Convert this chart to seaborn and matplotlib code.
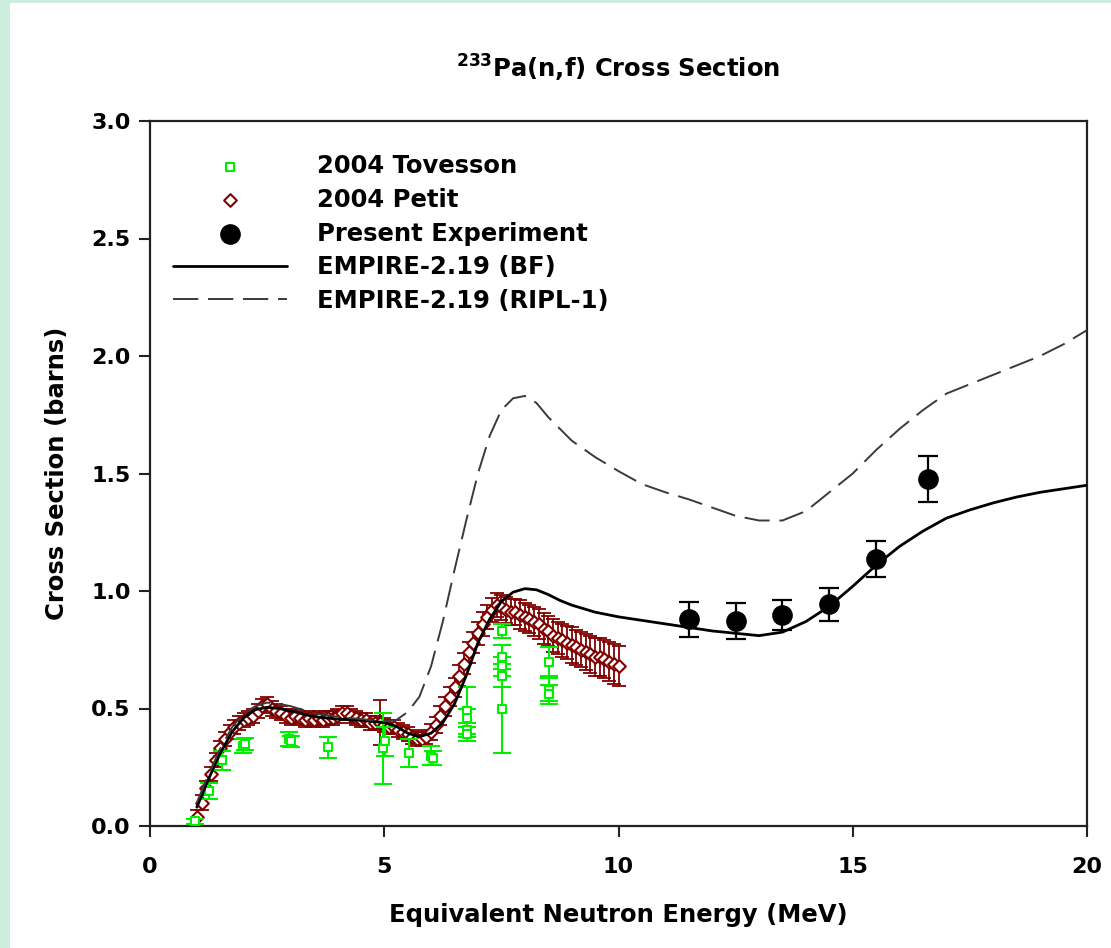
import matplotlib
matplotlib.use('Agg')
import matplotlib.pyplot as plt
import seaborn as sns
from matplotlib.patches import Rectangle

# ---------------- data ----------------
petit_e = [1.0, 1.1, 1.2, 1.3, 1.4, 1.5, 1.6, 1.7, 1.8, 1.9,
           2.0, 2.1, 2.2, 2.3, 2.4, 2.5, 2.6, 2.7, 2.8, 2.9,
           3.0, 3.1, 3.2, 3.3, 3.4, 3.5, 3.6, 3.7, 3.8, 3.9,
           4.0, 4.1, 4.2, 4.3, 4.4, 4.5, 4.6, 4.7, 4.8, 4.9,
           5.0, 5.1, 5.2, 5.3, 5.4, 5.5, 5.6, 5.7, 5.8, 5.9,
           6.0, 6.1, 6.2, 6.3, 6.4, 6.5, 6.6, 6.7, 6.8, 6.9,
           7.0, 7.1, 7.2, 7.3, 7.4, 7.5, 7.6, 7.7, 7.8, 7.9,
           8.0, 8.1, 8.2, 8.3, 8.4, 8.5, 8.6, 8.7, 8.8, 8.9,
           9.0, 9.1, 9.2, 9.3, 9.4, 9.5, 9.6, 9.7, 9.8, 9.9, 10.0]
petit_xs = [0.04, 0.10, 0.16, 0.22, 0.28, 0.33, 0.37, 0.40, 0.42, 0.44,
            0.45, 0.46, 0.47, 0.49, 0.51, 0.52, 0.50, 0.49, 0.48, 0.47,
            0.46, 0.47, 0.46, 0.45, 0.46, 0.45, 0.46, 0.45, 0.46, 0.46,
            0.47, 0.48, 0.48, 0.47, 0.46, 0.45, 0.45, 0.44, 0.44, 0.44,
            0.43, 0.42, 0.42, 0.41, 0.40, 0.39, 0.38, 0.37, 0.37, 0.38,
            0.40, 0.43, 0.47, 0.51, 0.55, 0.59, 0.64, 0.69, 0.74, 0.78,
            0.82, 0.86, 0.89, 0.92, 0.94, 0.93, 0.92, 0.91, 0.91, 0.90,
            0.89, 0.88, 0.87, 0.86, 0.84, 0.83, 0.81, 0.80, 0.79, 0.78,
            0.77, 0.76, 0.75, 0.74, 0.73, 0.72, 0.72, 0.71, 0.70, 0.69, 0.68]
petit_err = [0.03, 0.03, 0.03, 0.03, 0.03, 0.03, 0.03, 0.03, 0.03, 0.03,
             0.03, 0.03, 0.03, 0.03, 0.03, 0.03, 0.03, 0.03, 0.03, 0.03,
             0.03, 0.03, 0.03, 0.03, 0.03, 0.03, 0.03, 0.03, 0.03, 0.03,
             0.03, 0.03, 0.03, 0.03, 0.03, 0.03, 0.03, 0.03, 0.03, 0.095,
             0.03, 0.03, 0.03, 0.03, 0.03, 0.03, 0.03, 0.03, 0.03, 0.03,
             0.035, 0.035, 0.04, 0.04, 0.04, 0.04, 0.045, 0.045, 0.045, 0.045,
             0.05, 0.05, 0.05, 0.05, 0.05, 0.055, 0.055, 0.055, 0.055, 0.06,
             0.06, 0.06, 0.06, 0.065, 0.065, 0.065, 0.07, 0.07, 0.07, 0.07,
             0.075, 0.075, 0.075, 0.075, 0.08, 0.08, 0.08, 0.08, 0.085, 0.085, 0.085]

tov_e = [0.97, 1.25, 1.53, 1.98, 2.03, 2.97, 3.02, 3.80, 4.98, 5.02, 5.53,
         6.00, 6.03, 6.77, 6.77, 6.77, 6.77, 7.52, 7.52, 7.52, 7.52, 7.52,
         8.52, 8.52, 8.52]
tov_xs = [0.02, 0.15, 0.28, 0.34, 0.35, 0.37, 0.36, 0.335, 0.33, 0.36, 0.31,
          0.30, 0.29, 0.49, 0.46, 0.41, 0.39, 0.83, 0.72, 0.68, 0.64, 0.50,
          0.70, 0.58, 0.56]
tov_err = [0.01, 0.035, 0.04, 0.03, 0.025, 0.03, 0.025, 0.045, 0.15, 0.06, 0.06,
           0.04, 0.03, 0.10, 0.04, 0.03, 0.03, 0.03, 0.05, 0.04, 0.05, 0.19,
           0.06, 0.05, 0.04]

exp_e = [11.5, 12.5, 13.5, 14.5, 15.5, 16.6]
exp_xs = [0.88, 0.872, 0.897, 0.944, 1.136, 1.477]
exp_err = [0.075, 0.075, 0.065, 0.07, 0.077, 0.098]

bf_e = [1.0, 1.25, 1.5, 1.75, 2.0, 2.25, 2.5, 2.75, 3.0, 3.5, 4.0, 4.5, 5.0,
        5.25, 5.5, 5.75, 6.0, 6.25, 6.5, 6.75, 7.0, 7.25, 7.5, 7.75, 8.0,
        8.25, 8.5, 8.75, 9.0, 9.5, 10.0, 10.5, 11.0, 11.5, 12.0, 12.5, 13.0,
        13.5, 14.0, 14.5, 15.0, 15.5, 16.0, 16.5, 17.0, 17.5, 18.0, 18.5,
        19.0, 19.5, 20.0]
bf_xs = [0.08, 0.20, 0.31, 0.40, 0.46, 0.495, 0.505, 0.50, 0.49, 0.465, 0.455,
         0.45, 0.44, 0.425, 0.395, 0.38, 0.395, 0.44, 0.52, 0.64, 0.78, 0.88,
         0.955, 0.995, 1.01, 1.005, 0.985, 0.96, 0.94, 0.91, 0.89, 0.875,
         0.86, 0.845, 0.83, 0.82, 0.81, 0.825, 0.87, 0.935, 1.02, 1.11, 1.19,
         1.255, 1.31, 1.345, 1.375, 1.40, 1.42, 1.435, 1.45]

ripl_e = [1.0, 1.25, 1.5, 1.75, 2.0, 2.25, 2.5, 2.75, 3.0, 3.5, 4.0, 4.5, 5.0,
          5.25, 5.5, 5.75, 6.0, 6.25, 6.5, 6.75, 7.0, 7.25, 7.5, 7.75, 8.0,
          8.25, 8.5, 9.0, 9.5, 10.0, 10.5, 11.0, 11.5, 12.0, 12.5, 13.0,
          13.5, 14.0, 14.5, 15.0, 15.5, 16.0, 16.5, 17.0, 17.5, 18.0, 18.5,
          19.0, 19.5, 20.0]
ripl_xs = [0.10, 0.22, 0.33, 0.42, 0.48, 0.51, 0.525, 0.52, 0.51, 0.48, 0.465,
           0.455, 0.445, 0.45, 0.485, 0.55, 0.68, 0.87, 1.09, 1.30, 1.50, 1.66,
           1.77, 1.82, 1.83, 1.80, 1.74, 1.64, 1.57, 1.51, 1.455, 1.42, 1.39,
           1.355, 1.32, 1.30, 1.30, 1.34, 1.42, 1.50, 1.60, 1.69, 1.77, 1.84,
           1.88, 1.92, 1.96, 2.00, 2.05, 2.11]

x_ticks = [0, 5, 10, 15, 20]
y_ticks = [0.0, 0.5, 1.0, 1.5, 2.0, 2.5, 3.0]

# ---------------- style ----------------
sns.set_theme(style='white')
plt.rcParams['font.family'] = ['DejaVu Sans']
plt.rcParams['font.weight'] = 'bold'
plt.rcParams['mathtext.default'] = 'bf'
for k in ['text.color', 'axes.labelcolor', 'xtick.color', 'ytick.color']:
    plt.rcParams[k] = 'black'

W, H = 1111, 948
fig = plt.figure(figsize=(W / 100, H / 100), dpi=100)
fig.patch.set_facecolor('white')
mint = '#CDEEDF'
fig.add_artist(Rectangle((0, 0), 10 / W, 1, transform=fig.transFigure,
                         facecolor=mint, edgecolor='none', zorder=-10))
fig.add_artist(Rectangle((0, 1 - 3 / H), 1, 3 / H, transform=fig.transFigure,
                         facecolor=mint, edgecolor='none', zorder=-10))

ax = fig.add_axes([150 / W, 1 - 826 / H, (1087 - 150) / W, (826 - 121) / H])
ax.set_facecolor('white')

green = '#00EE00'
brown = '#800000'
FS = 17.5

# Petit
ax.errorbar(petit_e, petit_xs, yerr=petit_err, fmt='none', ecolor=brown,
            elinewidth=1.3, capsize=5, capthick=1.3, zorder=2)
sns.scatterplot(x=petit_e, y=petit_xs, marker='D', s=42, color='white',
                edgecolor=brown, linewidth=1.5, ax=ax, zorder=3,
                label='2004 Petit')
# Tovesson
ax.errorbar(tov_e, tov_xs, yerr=tov_err, fmt='none', ecolor=green,
            elinewidth=1.5, capsize=6.5, capthick=1.5, zorder=4)
sns.scatterplot(x=tov_e, y=tov_xs, marker='s', s=40, color='white',
                edgecolor=green, linewidth=1.5, ax=ax, zorder=5,
                label='2004 Tovesson')
# Model curves
sns.lineplot(x=bf_e, y=bf_xs, color='black', linewidth=2.0, ax=ax, zorder=6,
             label='EMPIRE-2.19 (BF)')
sns.lineplot(x=ripl_e, y=ripl_xs, color='#3a3a3a', linewidth=1.4, ax=ax,
             zorder=6, linestyle=(0, (13, 5)), label='EMPIRE-2.19 (RIPL-1)')
# Present experiment
ax.errorbar(exp_e, exp_xs, yerr=exp_err, fmt='none', ecolor='black',
            elinewidth=1.6, capsize=7.5, capthick=1.6, zorder=7)
sns.scatterplot(x=exp_e, y=exp_xs, marker='o', s=190, color='black',
                edgecolor='black', ax=ax, zorder=8,
                label='Present Experiment')

# axes
ax.set_xlim(0, 20)
ax.set_ylim(0, 3.0)
ax.set_xticks(x_ticks)
ax.set_xticklabels([str(t) for t in x_ticks])
ax.set_yticks(y_ticks)
ax.set_yticklabels([f'{t:.1f}' for t in y_ticks])
ax.tick_params(axis='both', which='major', direction='out', length=8,
               width=1.5, color='#222222', labelsize=16, pad=6,
               labelcolor='black',
               bottom=True, left=True, top=False, right=False)
ax.tick_params(axis='x', pad=14)
for lab in ax.get_xticklabels() + ax.get_yticklabels():
    lab.set_fontweight('bold')
for sp in ax.spines.values():
    sp.set_color('#222222')
    sp.set_linewidth(1.6)

ax.set_xlabel('Equivalent Neutron Energy (MeV)', fontsize=FS,
              fontweight='bold', labelpad=19)
ax.set_ylabel('Cross Section (barns)', fontsize=FS, fontweight='bold',
              labelpad=16)
ax.set_title(r'$^{233}$Pa(n,f) Cross Section', fontsize=FS,
             fontweight='bold', pad=31)

# legend
h, l = ax.get_legend_handles_labels()
order = ['2004 Tovesson', '2004 Petit', 'Present Experiment',
         'EMPIRE-2.19 (BF)', 'EMPIRE-2.19 (RIPL-1)']
hd = dict(zip(l, h))
ax.legend([hd[k] for k in order], order, loc='upper left', frameon=False,
          handlelength=4.7, handletextpad=1.23,
          labelspacing=0.40, borderaxespad=0.45, borderpad=0.5,
          bbox_to_anchor=(0, 1 - 10 / 705),
          prop={'weight': 'bold', 'size': FS})

fig.savefig('out.png', dpi=100, facecolor='white')
